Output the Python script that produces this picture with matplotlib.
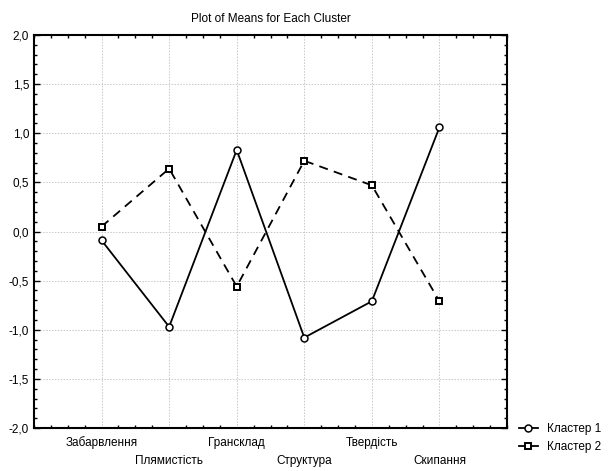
import matplotlib
matplotlib.use("Agg")
import matplotlib.pyplot as plt
from matplotlib.ticker import MultipleLocator, FuncFormatter

plt.rcParams['font.family'] = ['Liberation Sans', 'DejaVu Sans']

categories = ["Забарвлення", "Плямистість", "Грансклад", "Структура", "Твердість", "Скипання"]
cluster1 = [-0.09, -0.97, 0.83, -1.08, -0.71, 1.06]
cluster2 = [0.05, 0.64, -0.56, 0.72, 0.47, -0.71]
series_names = ["Кластер 1", "Кластер 2"]
title = "Plot of Means for Each Cluster"

fig = plt.figure(figsize=(6.08, 4.71), dpi=100)
ax = fig.add_axes([34/608, 43/471, (507-34)/608, (428-35)/471])

x = list(range(1, len(categories) + 1))
ax.plot(x, cluster1, '-', color='black', lw=1.3, marker='o', ms=5,
        mfc='white', mec='black', mew=1.1, label=series_names[0], zorder=3)
ax.plot(x, cluster2, '--', color='black', lw=1.3, marker='s', ms=5,
        mfc='white', mec='black', mew=1.4, dashes=(5, 3.5), label=series_names[1], zorder=3)

ax.set_xlim(0, 7)
ax.set_ylim(-2, 2)
ax.set_xticks(x)
ax.set_xticklabels([""] * len(x))
ax.xaxis.set_minor_locator(MultipleLocator(0.25))
ax.yaxis.set_major_locator(MultipleLocator(0.5))
ax.yaxis.set_minor_locator(MultipleLocator(0.1))
ax.yaxis.set_major_formatter(FuncFormatter(lambda v, p: f"{v:.1f}".replace('.', ',')))

for xi, lab in zip(x, categories):
    yoff = -15/393 if xi % 2 == 1 else -33/393
    ax.text(xi, yoff, lab, transform=ax.get_xaxis_transform(), ha='center', va='center', fontsize=8.5)

ax.tick_params(which='both', direction='in', top=True, right=True, length=4, width=1, labelsize=8.5)
ax.tick_params(which='minor', length=2.5)
ax.tick_params(axis='x', which='major', length=0)
ax.grid(True, which='major', linestyle=(0, (1.5, 1.5)), color='#c8c8c8', lw=0.7)
for s in ax.spines.values():
    s.set_linewidth(1.5)

ax.set_title(title, fontsize=8.5, pad=9)

leg = fig.legend(loc='lower left', bbox_to_anchor=(508/608, 7/471), frameon=False,
                 fontsize=8.5, handlelength=1.6, handletextpad=0.8, labelspacing=0.55)
for h in leg.legend_handles:
    h.set_linestyle('-')

fig.savefig("out.png", dpi=100)
